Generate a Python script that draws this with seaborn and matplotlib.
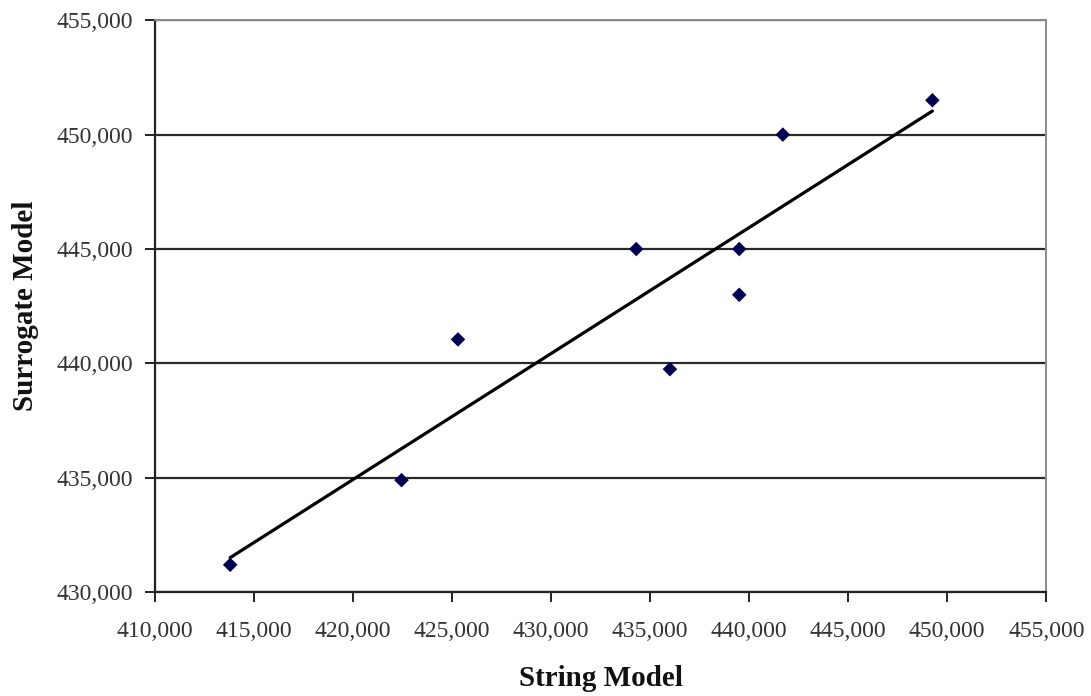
import numpy as np
import matplotlib.pyplot as plt
import seaborn as sns
import pandas as pd
import matplotlib.ticker as mticker

# Values
string_model = [413800, 422450, 425300, 436000, 434300, 439500, 439500, 441700, 449250]
surrogate_model = [431200, 434900, 441050, 439750, 445000, 445000, 443000, 450000, 451500]

x_ticks = [410000, 415000, 420000, 425000, 430000, 435000, 440000, 445000, 450000, 455000]
y_ticks = [430000, 435000, 440000, 445000, 450000, 455000]

data = pd.DataFrame({'String Model': string_model, 'Surrogate Model': surrogate_model})

sns.set_style('white')
plt.rcParams['font.family'] = ['Liberation Serif', 'DejaVu Serif']

fig = plt.figure(figsize=(10.91, 6.96), dpi=100)
ax = fig.add_axes([0.142, 0.149, 0.817, 0.822])

# Horizontal gridlines behind the points
ax.set_axisbelow(True)
ax.yaxis.grid(True, color='#2a2a2a', linewidth=1.6)
ax.xaxis.grid(False)

# Scatter points plus linear trendline
sns.regplot(
    data=data, x='String Model', y='Surrogate Model', ax=ax,
    ci=None, truncate=True,
    marker='D',
    scatter_kws={'color': '#000050', 's': 55, 'alpha': 1, 'zorder': 3, 'edgecolor': 'none'},
    line_kws={'color': 'black', 'linewidth': 2.3, 'zorder': 2},
)

ax.set_xlim(410000, 455000)
ax.set_ylim(430000, 455000)
ax.set_xticks(x_ticks)
ax.set_yticks(y_ticks)
fmt = mticker.FuncFormatter(lambda v, p: f'{int(v):,}')
ax.xaxis.set_major_formatter(fmt)
ax.yaxis.set_major_formatter(fmt)

# Axis frame
for side in ['left', 'bottom']:
    ax.spines[side].set_color('#222222')
    ax.spines[side].set_linewidth(1.6)
for side in ['top', 'right']:
    ax.spines[side].set_color('#8a8a8a')
    ax.spines[side].set_linewidth(1.4)

ax.tick_params(axis='both', direction='out', length=7, width=1.4, color='#222222',
               labelsize=17, labelcolor='#333333', bottom=True, left=True)
ax.tick_params(axis='x', pad=14)
ax.tick_params(axis='y', pad=9)

ax.set_xlabel('String Model', fontsize=21, fontweight='bold', labelpad=16, color='#111111')
ax.set_ylabel('Surrogate Model', fontsize=21, fontweight='bold', labelpad=12, color='#111111')

plt.savefig('out.png', dpi=100)
